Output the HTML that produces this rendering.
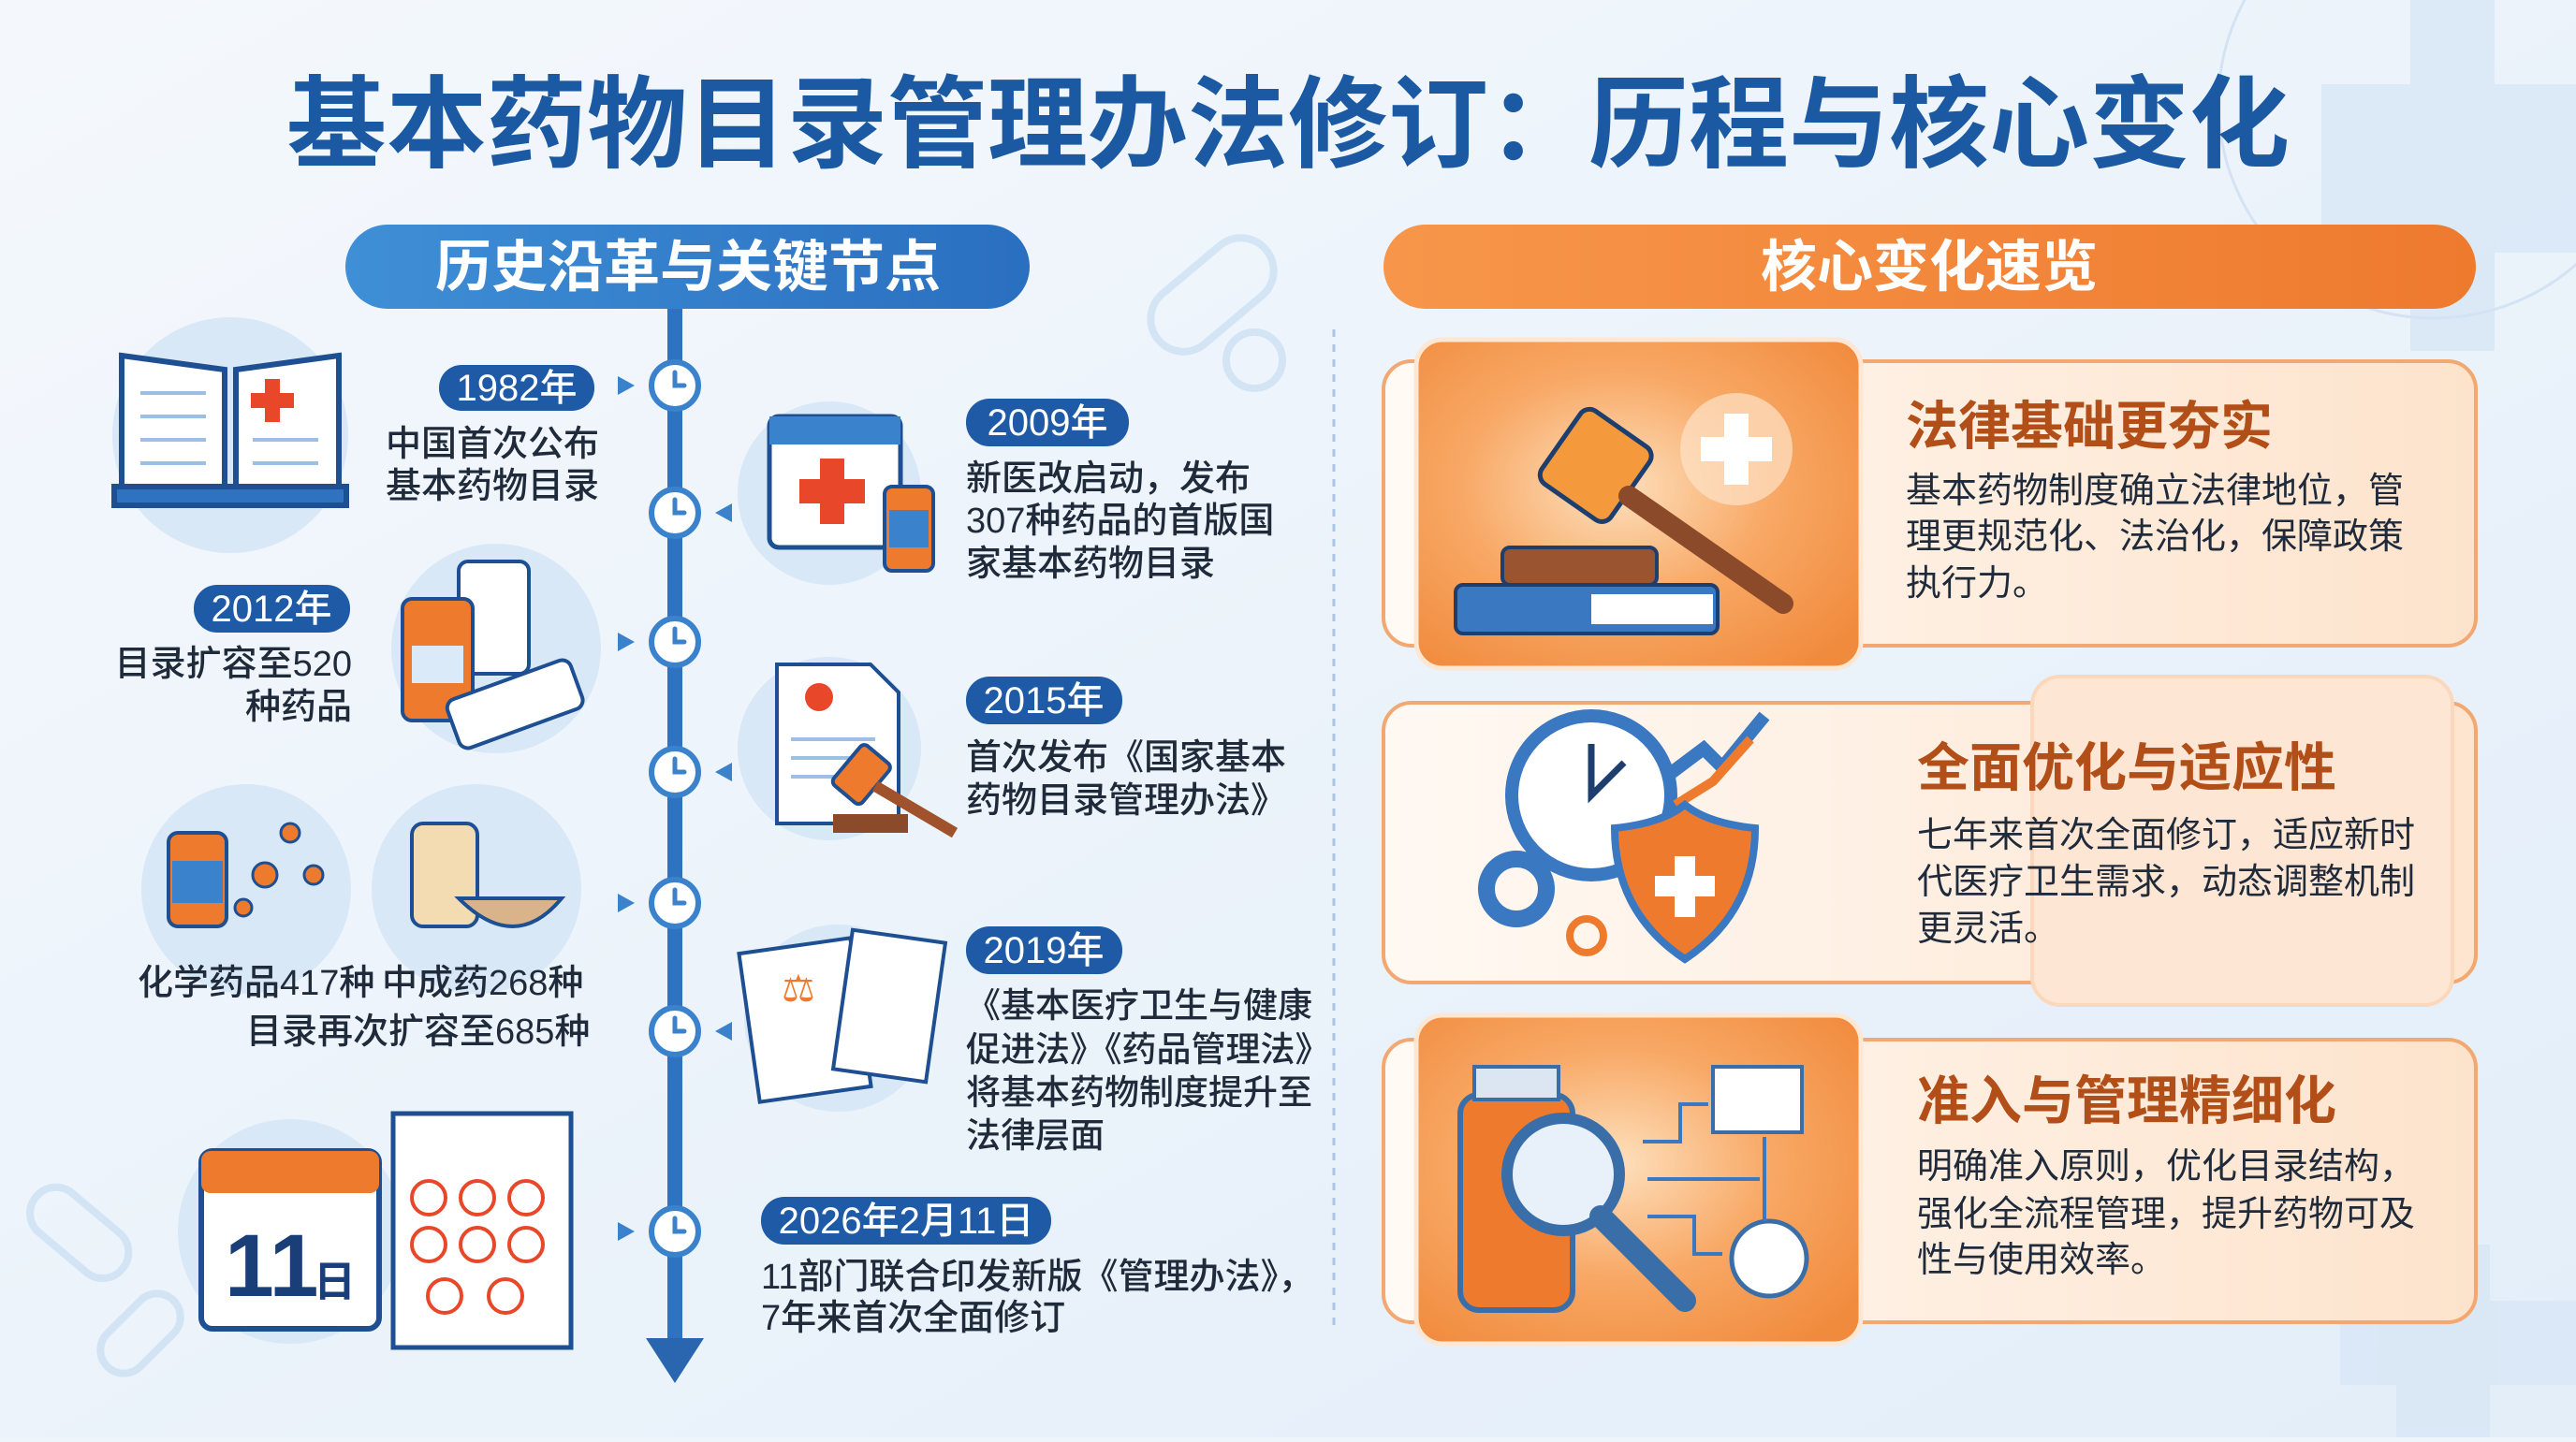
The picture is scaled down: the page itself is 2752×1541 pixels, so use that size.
<!DOCTYPE html>
<html><head><meta charset="utf-8"><style>
html,body{margin:0;padding:0;}
body{width:2752px;height:1536px;overflow:hidden;background:#eef5fb;}
svg text{font-family:"Liberation Sans","Noto Sans CJK SC",sans-serif;}
</style></head><body>
<svg width="2752" height="1536" viewBox="0 0 2752 1536" xmlns="http://www.w3.org/2000/svg">
<defs>
<linearGradient id="bg" x1="0" y1="0" x2="1" y2="1"><stop offset="0" stop-color="#f4f8fc"/><stop offset="1" stop-color="#e3eef9"/></linearGradient>
<linearGradient id="og" x1="0" y1="0" x2="1" y2="0"><stop offset="0" stop-color="#f7964a"/><stop offset="1" stop-color="#ee7a2e"/></linearGradient>
<linearGradient id="bgp" x1="0" y1="0" x2="1" y2="0"><stop offset="0" stop-color="#3f8fd6"/><stop offset="1" stop-color="#2a6fc0"/></linearGradient>
<radialGradient id="opanel" cx="0.45" cy="0.45" r="0.7"><stop offset="0" stop-color="#fde0bd"/><stop offset="0.5" stop-color="#f8a865"/><stop offset="1" stop-color="#f08a3c"/></radialGradient>
<linearGradient id="card" x1="0" y1="0" x2="1" y2="0"><stop offset="0" stop-color="#fffaf5"/><stop offset="1" stop-color="#fde3cc"/></linearGradient>
<linearGradient id="card2" x1="0" y1="0" x2="1" y2="0"><stop offset="0" stop-color="#fff9f3"/><stop offset="1" stop-color="#fde5d0"/></linearGradient>
</defs>
<rect width="2752" height="1536" fill="url(#bg)"/>
<g fill="#d6e6f6" opacity="0.7">
<rect x="2575" y="0" width="90" height="375"/><rect x="2480" y="90" width="272" height="180"/>
<rect x="2560" y="1330" width="100" height="206"/><rect x="2500" y="1390" width="252" height="90"/>
</g>
<circle cx="2600" cy="110" r="230" fill="none" stroke="#d3e3f3" stroke-width="3"/>
<g opacity="0.5" fill="none" stroke="#b9d4ee" stroke-width="8">
<rect x="1220" y="280" width="150" height="70" rx="35" transform="rotate(-40 1295 315)"/>
<circle cx="1340" cy="385" r="30"/>
<rect x="25" y="1290" width="120" height="55" rx="27" transform="rotate(40 85 1317)"/>
<rect x="100" y="1400" width="100" height="50" rx="25" transform="rotate(-45 150 1425)"/>
</g>

<text x="1376" y="170" text-anchor="middle" font-size="107" font-weight="bold" fill="#1b5aa3">基本药物目录管理办法修订：历程与核心变化</text>

<rect x="369" y="240" width="731" height="90" rx="45" fill="url(#bgp)"/>
<text x="735" y="306" text-anchor="middle" font-size="60" font-weight="bold" fill="#fff">历史沿革与关键节点</text>
<rect x="1478" y="240" width="1167" height="90" rx="45" fill="url(#og)"/>
<text x="2061" y="306" text-anchor="middle" font-size="60" font-weight="bold" fill="#fff">核心变化速览</text>

<line x1="1425" y1="352" x2="1425" y2="1422" stroke="#a9c6e4" stroke-width="3" stroke-dasharray="8 8"/>

<rect x="713" y="330" width="16" height="1110" fill="#2f73c0"/>
<polygon points="690,1430 752,1430 721,1478" fill="#2a66b0"/>
<g fill="#fff" stroke="#3a82cc" stroke-width="6">
<circle cx="721" cy="412" r="25"/><circle cx="721" cy="548" r="25"/><circle cx="721" cy="686" r="25"/>
<circle cx="721" cy="825" r="25"/><circle cx="721" cy="965" r="25"/><circle cx="721" cy="1102" r="25"/><circle cx="721" cy="1316" r="25"/>
</g>
<g stroke="#3a82cc" stroke-width="5" fill="none" stroke-linecap="round">
<path d="M721 398v14h10"/><path d="M721 534v14h10"/><path d="M721 672v14h10"/><path d="M721 811v14h10"/><path d="M721 951v14h10"/><path d="M721 1088v14h10"/><path d="M721 1302v14h10"/>
</g>
<g fill="#3a82cc">
<polygon points="660,402 678,412 660,422"/><polygon points="660,676 678,686 660,696"/><polygon points="660,955 678,965 660,975"/><polygon points="660,1306 678,1316 660,1326"/>
<polygon points="782,538 764,548 782,558"/><polygon points="782,815 764,825 782,835"/><polygon points="782,1092 764,1102 782,1112"/>
</g>

<g fill="#d9e8f7">
<circle cx="246" cy="465" r="126"/><circle cx="886" cy="527" r="98"/><circle cx="530" cy="693" r="112"/>
<circle cx="886" cy="800" r="98"/><circle cx="263" cy="950" r="112"/><circle cx="509" cy="950" r="112"/>
<circle cx="895" cy="1088" r="100"/><circle cx="310" cy="1316" r="120"/>
</g>
<g stroke="#1e4f92" stroke-width="6">
<path d="M130 380 L240 395 L240 535 L130 520Z" fill="#fff"/><path d="M362 380 L252 395 L252 535 L362 520Z" fill="#fff"/>
<rect x="122" y="520" width="248" height="20" fill="#2f73c0"/>
</g>
<g stroke="#9cbfe3" stroke-width="4"><path d="M150 420h70M150 445h70M150 470h70M150 495h70M270 470h70M270 495h70"/></g>
<rect x="283" y="405" width="16" height="46" fill="#e9472a"/><rect x="268" y="420" width="46" height="16" fill="#e9472a"/>
<rect x="822" y="445" width="140" height="140" rx="10" fill="#fff" stroke="#1e4f92" stroke-width="5"/>
<rect x="822" y="445" width="140" height="30" fill="#3a82cc"/>
<rect x="876" y="490" width="26" height="70" fill="#e9472a"/><rect x="854" y="512" width="70" height="26" fill="#e9472a"/>
<rect x="945" y="520" width="52" height="90" rx="8" fill="#ee7a2e" stroke="#1e4f92" stroke-width="4"/>
<rect x="950" y="545" width="42" height="40" fill="#3a82cc"/>
<rect x="490" y="600" width="75" height="120" rx="10" fill="#fff" stroke="#1e4f92" stroke-width="4"/>
<rect x="430" y="640" width="75" height="130" rx="10" fill="#ee7a2e" stroke="#1e4f92" stroke-width="4"/>
<rect x="440" y="690" width="55" height="40" fill="#dbeaf8"/>
<rect x="480" y="725" width="140" height="55" rx="10" fill="#fff" stroke="#1e4f92" stroke-width="4" transform="rotate(-20 550 752)"/>
<path d="M830 710h100l30 30v140h-130z" fill="#fff" stroke="#1e4f92" stroke-width="4"/>
<circle cx="875" cy="745" r="15" fill="#e9472a"/>
<g stroke="#9cbfe3" stroke-width="4"><path d="M845 790h90M845 810h90M845 830h70"/></g>
<rect x="900" y="800" width="40" height="55" rx="6" fill="#ee7a2e" stroke="#1e4f92" stroke-width="4" transform="rotate(40 920 828)"/>
<path d="M935 840 L1020 890" stroke="#a0522d" stroke-width="12"/>
<rect x="890" y="870" width="80" height="20" fill="#8b4a2a"/>
<rect x="180" y="890" width="62" height="100" rx="10" fill="#ee7a2e" stroke="#1e4f92" stroke-width="4"/>
<rect x="184" y="920" width="54" height="45" fill="#3a82cc"/>
<g fill="#ee7a2e" stroke="#1e4f92" stroke-width="3"><circle cx="283" cy="935" r="13"/><circle cx="310" cy="890" r="10"/><circle cx="335" cy="935" r="10"/><circle cx="260" cy="970" r="9"/></g>
<rect x="440" y="880" width="70" height="110" rx="12" fill="#f4dcb2" stroke="#1e4f92" stroke-width="4"/>
<path d="M490 960 q60 60 110 0z" fill="#d9b48a" stroke="#1e4f92" stroke-width="4"/>
<rect x="800" y="1010" width="120" height="160" fill="#fff" stroke="#1e4f92" stroke-width="4" transform="rotate(-8 860 1090)"/>
<rect x="900" y="1000" width="100" height="150" fill="#fff" stroke="#1e4f92" stroke-width="4" transform="rotate(8 950 1075)"/>
<text x="835" y="1070" font-size="40" fill="#ee7a2e">⚖</text>
<rect x="215" y="1230" width="190" height="190" rx="12" fill="#fff" stroke="#1e4f92" stroke-width="6"/>
<rect x="215" y="1230" width="190" height="45" rx="10" fill="#ee7a2e"/>
<text x="240" y="1385" font-size="95" font-weight="bold" fill="#1a3f78">11</text><text x="335" y="1385" font-size="45" font-weight="bold" fill="#1a3f78">日</text>
<rect x="420" y="1190" width="190" height="250" fill="#fff" stroke="#1e4f92" stroke-width="5"/>
<g fill="none" stroke="#e9472a" stroke-width="4">
<circle cx="458" cy="1280" r="18"/><circle cx="510" cy="1280" r="18"/><circle cx="562" cy="1280" r="18"/>
<circle cx="458" cy="1330" r="18"/><circle cx="510" cy="1330" r="18"/><circle cx="562" cy="1330" r="18"/>
<circle cx="475" cy="1385" r="18"/><circle cx="540" cy="1385" r="18"/>
</g>

<g font-size="38" fill="#1f2a3a" font-weight="500">
<rect x="469" y="390" width="166" height="49" rx="24" fill="#1e5aa5"/>
<text x="552" y="428" text-anchor="middle" fill="#fff" font-size="40">1982年</text>
<text x="412" y="487">中国首次公布</text><text x="412" y="532">基本药物目录</text>
<rect x="1032" y="426" width="174" height="51" rx="25" fill="#1e5aa5"/>
<text x="1119" y="465" text-anchor="middle" fill="#fff" font-size="40">2009年</text>
<text x="1032" y="524">新医改启动，发布</text><text x="1032" y="569">307种药品的首版国</text><text x="1032" y="615">家基本药物目录</text>
<rect x="207" y="625" width="167" height="51" rx="25" fill="#1e5aa5"/>
<text x="290" y="664" text-anchor="middle" fill="#fff" font-size="40">2012年</text>
<text x="376" y="722" text-anchor="end">目录扩容至520</text><text x="376" y="768" text-anchor="end">种药品</text>
<rect x="1032" y="723" width="167" height="51" rx="25" fill="#1e5aa5"/>
<text x="1115" y="762" text-anchor="middle" fill="#fff" font-size="40">2015年</text>
<text x="1032" y="822">首次发布《国家基本</text><text x="1032" y="868">药物目录管理办法》</text>
<text x="147" y="1063">化学药品417种</text><text x="408" y="1063">中成药268种</text>
<text x="263" y="1115">目录再次扩容至685种</text>
<rect x="1032" y="990" width="167" height="51" rx="25" fill="#1e5aa5"/>
<text x="1115" y="1029" text-anchor="middle" fill="#fff" font-size="40">2019年</text>
<g font-size="37"><text x="1032" y="1087">《基本医疗卫生与健康</text><text x="1032" y="1134">促进法》《药品管理法》</text><text x="1032" y="1180">将基本药物制度提升至</text><text x="1032" y="1226">法律层面</text></g>
<rect x="813" y="1279" width="310" height="51" rx="25" fill="#1e5aa5"/>
<text x="968" y="1318" text-anchor="middle" fill="#fff" font-size="40">2026年2月11日</text>
<text x="813" y="1377">11部门联合印发新版《管理办法》，</text><text x="813" y="1421">7年来首次全面修订</text>
</g>

<rect x="1478" y="386" width="1167" height="304" rx="30" fill="url(#card)" stroke="#f2a870" stroke-width="4"/>
<rect x="1513" y="363" width="475" height="351" rx="28" fill="url(#opanel)" stroke="#fde6d2" stroke-width="5"/>
<circle cx="1855" cy="480" r="60" fill="#fde3c8" opacity="0.7"/>
<rect x="1842" y="442" width="26" height="76" fill="#fff"/><rect x="1817" y="467" width="76" height="26" fill="#fff"/>
<rect x="1660" y="450" width="90" height="95" rx="12" fill="#f59a3c" stroke="#1e3e6e" stroke-width="5" transform="rotate(35 1705 497)"/>
<path d="M1740 530 L1905 645" stroke="#8b4a2a" stroke-width="22" stroke-linecap="round"/>
<rect x="1605" y="585" width="165" height="40" rx="8" fill="#9a5430" stroke="#1e3e6e" stroke-width="4"/>
<rect x="1555" y="625" width="280" height="52" rx="8" fill="#3a78c2" stroke="#1e3e6e" stroke-width="4"/>
<rect x="1700" y="635" width="130" height="32" fill="#fff"/>
<text x="2036" y="475" font-size="56" font-weight="bold" fill="#b24e18">法律基础更夯实</text>
<g font-size="38" fill="#1f2a3a"><text x="2036" y="537">基本药物制度确立法律地位，管</text><text x="2036" y="586">理更规范化、法治化，保障政策</text><text x="2036" y="636">执行力。</text></g>

<rect x="1478" y="751" width="1167" height="299" rx="30" fill="url(#card2)" stroke="#f2a870" stroke-width="4"/>
<rect x="2171" y="723" width="449" height="351" rx="30" fill="#fde6d3" stroke="#fbd8bc" stroke-width="4"/>
<circle cx="1700" cy="850" r="85" fill="#fff" stroke="#3a78c2" stroke-width="14"/>
<path d="M1700 795v55l35-35" stroke="#1e3e6e" stroke-width="7" fill="none"/>
<circle cx="1620" cy="950" r="32" fill="none" stroke="#3a78c2" stroke-width="18"/>
<circle cx="1695" cy="1000" r="18" fill="none" stroke="#ee7a2e" stroke-width="8"/>
<path d="M1780 830 l40 -30 l20 20 l45 -55" stroke="#3a78c2" stroke-width="14" fill="none"/>
<path d="M1790 860 l40 -25 l40 -45" stroke="#ee7a2e" stroke-width="10" fill="none"/>
<path d="M1725 885 q50 -5 75 -25 q25 20 75 25 q0 90 -75 140 q-75 -50 -75 -140z" fill="#ee7a2e" stroke="#3a78c2" stroke-width="8"/>
<rect x="1789" y="915" width="22" height="65" fill="#fff"/><rect x="1768" y="936" width="64" height="22" fill="#fff"/>
<text x="2048" y="840" font-size="56" font-weight="bold" fill="#b24e18">全面优化与适应性</text>
<g font-size="38" fill="#1f2a3a"><text x="2048" y="905">七年来首次全面修订，适应新时</text><text x="2048" y="955">代医疗卫生需求，动态调整机制</text><text x="2048" y="1005">更灵活。</text></g>

<rect x="1478" y="1111" width="1167" height="302" rx="30" fill="url(#card)" stroke="#f2a870" stroke-width="4"/>
<rect x="1513" y="1085" width="475" height="351" rx="28" fill="url(#opanel)" stroke="#fde6d2" stroke-width="5"/>
<rect x="1560" y="1170" width="120" height="230" rx="20" fill="#ee7a2e" stroke="#3a6ea8" stroke-width="6"/>
<rect x="1575" y="1140" width="90" height="35" fill="#dbe6f2" stroke="#3a6ea8" stroke-width="4"/>
<circle cx="1670" cy="1255" r="60" fill="#e8f1fa" stroke="#3a6ea8" stroke-width="12"/>
<path d="M1710 1300 L1800 1390" stroke="#3a6ea8" stroke-width="24" stroke-linecap="round"/>
<rect x="1830" y="1140" width="95" height="70" fill="#fff" stroke="#3a6ea8" stroke-width="4"/>
<circle cx="1890" cy="1345" r="40" fill="#fff" stroke="#3a6ea8" stroke-width="5"/>
<path d="M1755 1220h40v-40h30M1760 1260h120M1760 1300h50v40h30M1885 1215v90" stroke="#3a78c2" stroke-width="4" fill="none"/>
<text x="2048" y="1196" font-size="56" font-weight="bold" fill="#b24e18">准入与管理精细化</text>
<g font-size="38" fill="#1f2a3a"><text x="2048" y="1259">明确准入原则，优化目录结构，</text><text x="2048" y="1310">强化全流程管理，提升药物可及</text><text x="2048" y="1359">性与使用效率。</text></g>
</svg>
</body></html>
